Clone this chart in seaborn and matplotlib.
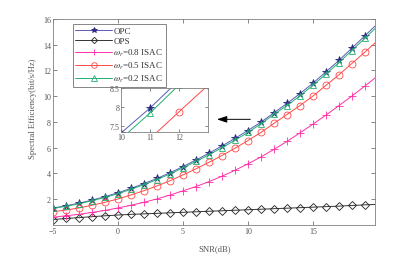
import matplotlib
matplotlib.use("Agg")
import matplotlib.pyplot as plt
import seaborn as sns
import pandas as pd

snr = list(range(-5, 21))
opc = [1.31, 1.49, 1.69, 1.93, 2.20, 2.50, 2.84, 3.21, 3.61, 4.05, 4.53, 5.04, 5.57,
       6.13, 6.72, 7.33, 7.98, 8.70, 9.43, 10.19, 11.00, 11.88, 12.77, 13.72, 14.68, 15.65]
ops = [0.42, 0.50, 0.57, 0.64, 0.71, 0.77, 0.82, 0.86, 0.90, 0.94, 0.98, 1.02, 1.06,
       1.10, 1.14, 1.18, 1.22, 1.26, 1.30, 1.34, 1.38, 1.42, 1.46, 1.51, 1.56, 1.60]
isac08 = [0.60, 0.71, 0.83, 0.97, 1.13, 1.32, 1.53, 1.76, 2.02, 2.32, 2.65, 2.98, 3.36,
          3.78, 4.24, 4.74, 5.28, 5.86, 6.48, 7.14, 7.82, 8.52, 9.26, 10.00, 10.78, 11.58]
isac05 = [1.03, 1.16, 1.32, 1.53, 1.76, 2.02, 2.33, 2.66, 3.03, 3.43, 3.88, 4.36, 4.86,
          5.39, 5.95, 6.55, 7.18, 7.88, 8.57, 9.26, 10.00, 10.83, 11.65, 12.53, 13.41, 14.33]
isac02 = [1.28, 1.45, 1.64, 1.88, 2.14, 2.43, 2.77, 3.13, 3.52, 3.96, 4.43, 4.93, 5.45,
          6.00, 6.58, 7.18, 7.85, 8.58, 9.27, 10.02, 10.84, 11.71, 12.60, 13.54, 14.49, 15.45]

labels = ["OPC", "OPS", r"$\omega_r$=0.8 ISAC", r"$\omega_r$=0.5 ISAC", r"$\omega_r$=0.2 ISAC"]
series = [opc, ops, isac08, isac05, isac02]
colors = ["#5a5ab8", "#333333", "#ff2fa8", "#ff4848", "#22b070"]
mcolors = ["#2a2a80", "#222222", "#ff2fa8", "#ff4848", "#22b070"]
markers = ["*", "D", "+", "o", "^"]
msizes = [5.5, 4, 5.5, 5, 5]

sns.set_style("ticks")
plt.rcParams["font.family"] = ["Liberation Serif", "DejaVu Serif"]
plt.rcParams["mathtext.fontset"] = "stix"

fig = plt.figure(figsize=(4.15, 2.55), dpi=100)
ax = fig.add_axes([0.128, 0.114, 0.776, 0.808])

def draw(a, legend=True):
    for y, lab, c, mc, m, ms in zip(series, labels, colors, mcolors, markers, msizes):
        df = pd.DataFrame({"snr": snr, "se": y})
        face = mc if m == "*" else "none"
        sns.lineplot(data=df, x="snr", y="se", ax=a, color=c, lw=0.7, marker=m,
                     markersize=ms, markerfacecolor=face,
                     markeredgecolor=mc, markeredgewidth=0.6,
                     markevery=slice(0, len(snr) - 1),
                     label=lab if legend else None)

def style(a, size, length, pad):
    a.tick_params(direction="in", top=True, right=True, labelsize=size, colors="#555555",
                  length=length, width=0.5, pad=pad)
    for s in a.spines.values():
        s.set_color("#808080")
        s.set_linewidth(0.6)

draw(ax)
ax.set_xlim(-5, 19.8)
ax.set_ylim(0, 16)
ax.set_xticks([-5, 0, 5, 10, 15])
ax.set_yticks([2, 4, 6, 8, 10, 12, 14, 16])
ax.set_xlabel("SNR(dB)", fontsize=6.2, color="#555555")
ax.set_ylabel("Spectral Efficiency(bit/s/Hz)", fontsize=6.2, color="#555555")
ax.xaxis.set_label_coords(0.5, -0.095)
ax.yaxis.set_label_coords(-0.05, 0.568)
style(ax, 5.8, 3, 1.5)

leg = ax.legend(loc="upper left", bbox_to_anchor=(0.061, 0.976), fontsize=6.5,
                frameon=True, fancybox=False, handlelength=4.0, borderpad=0.3,
                labelspacing=0.2, handletextpad=0.2, borderaxespad=0, markerscale=0.8)
leg.get_frame().set_edgecolor("#666666")
leg.get_frame().set_linewidth(0.7)
for t in leg.get_texts():
    t.set_color("#333333")

ins = fig.add_axes([0.292, 0.478, 0.209, 0.173])
draw(ins, legend=False)
ins.set_xlim(10, 13)
ins.set_ylim(7.35, 8.5)
ins.set_xticks([10, 11, 12])
ins.set_yticks([7.5, 8, 8.5])
ins.set_yticklabels(["7.5", "8", "8.5"])
ins.set_xlabel("")
ins.set_ylabel("")
style(ins, 5.8, 2, 1)

ax.annotate("", xy=(7.4, 8.2), xytext=(10.4, 8.2),
            arrowprops=dict(arrowstyle="-|>,head_length=0.6,head_width=0.2",
                            color="black", lw=0.7))

fig.savefig("out.png", dpi=100)
